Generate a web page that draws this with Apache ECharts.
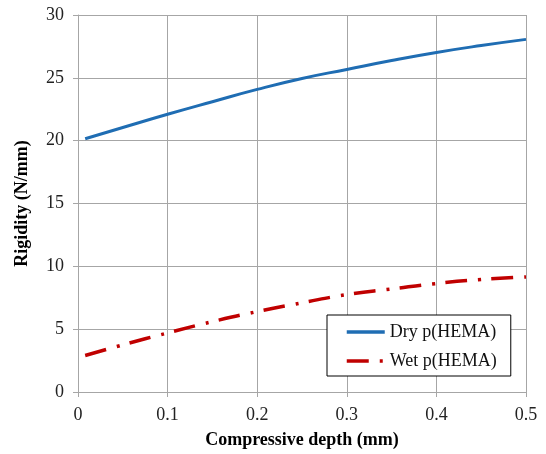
<!DOCTYPE html>
<html>
<head>
<meta charset="utf-8">
<script src="https://cdn.jsdelivr.net/npm/echarts@6/dist/echarts.min.js"></script>
<style>
  html, body { margin: 0; padding: 0; background: #fff; }
  #chart { width: 546px; height: 454px; }
</style>
</head>
<body>
<div id="chart"></div>
<script>
// values
const depth = [0.008, 0.05, 0.1, 0.15, 0.2, 0.25, 0.3, 0.35, 0.4, 0.45, 0.5]
const dryRigidity = [20.15, 21.05, 22.1, 23.1, 24.08, 24.95, 25.67, 26.38, 27.02, 27.57, 28.06]
const wetRigidity = [2.9, 3.75, 4.7, 5.6, 6.4, 7.1, 7.75, 8.2, 8.63, 8.95, 9.16]
const seriesNames = ['Dry p(HEMA)', 'Wet p(HEMA)']

const toPairs = (xs, ys) => xs.map((x, i) => [x, ys[i]])

const font = 'Liberation Serif, Times New Roman, serif'
const gridColor = '#a6a6a6'

const myChart = echarts.init(document.getElementById('chart'), null, { renderer: 'canvas' })

const option = {
  backgroundColor: '#fff',
  animation: false,
  textStyle: { fontFamily: font },
  grid: { left: 78, right: 20, top: 15, bottom: 62, containLabel: false },
  legend: {
    data: seriesNames,
    orient: 'vertical',
    left: 327,
    top: 315,
    width: 184,
    padding: [8, 14, 6, 18],
    itemGap: 11,
    itemWidth: 38,
    itemHeight: 16,
    backgroundColor: '#fff',
    borderColor: '#000',
    borderWidth: 1,
    // hide the marker, keep only the line sample
    itemStyle: { opacity: 0 },
    lineStyle: { width: 3.5 },
    textStyle: { fontFamily: font, fontSize: 18, color: '#111' }
  },
  xAxis: {
    type: 'value',
    min: 0,
    max: 0.5,
    interval: 0.1,
    name: 'Compressive depth (mm)',
    nameLocation: 'middle',
    nameGap: 39,
    nameTextStyle: { fontFamily: font, fontSize: 18, fontWeight: 'bold', color: '#000' },
    axisLine: { show: true, lineStyle: { color: gridColor, width: 1 } },
    axisTick: { show: true, length: 5, lineStyle: { color: gridColor } },
    axisLabel: { fontFamily: font, fontSize: 18, color: '#222', margin: 14 },
    splitLine: { show: true, lineStyle: { color: gridColor, width: 1 } }
  },
  yAxis: {
    type: 'value',
    min: 0,
    max: 30,
    interval: 5,
    name: 'Rigidity (N/mm)',
    nameLocation: 'middle',
    nameGap: 47,
    nameTextStyle: { fontFamily: font, fontSize: 18, fontWeight: 'bold', color: '#000' },
    axisLine: { show: true, lineStyle: { color: gridColor, width: 1 } },
    axisTick: { show: true, length: 5, lineStyle: { color: gridColor } },
    axisLabel: { fontFamily: font, fontSize: 18, color: '#222', margin: 14 },
    splitLine: { show: true, lineStyle: { color: gridColor, width: 1 } }
  },
  series: [
    {
      name: seriesNames[0],
      type: 'line',
      smooth: true,
      symbol: 'none',
      lineStyle: { color: '#1f6db3', width: 3 },
      itemStyle: { color: '#1f6db3' },
      data: toPairs(depth, dryRigidity)
    },
    {
      name: seriesNames[1],
      type: 'line',
      smooth: true,
      symbol: 'none',
      lineStyle: { color: '#c00000', width: 3.5, type: [22, 11, 3, 10] },
      itemStyle: { color: '#c00000' },
      data: toPairs(depth, wetRigidity)
    }
  ]
}

myChart.setOption(option)
</script>
</body>
</html>
